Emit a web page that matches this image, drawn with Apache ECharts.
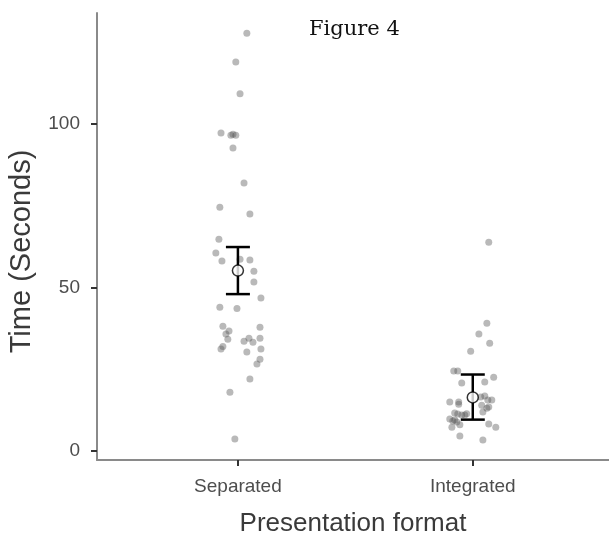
<!DOCTYPE html>
<html>
<head>
<meta charset="utf-8">
<script src="https://cdn.jsdelivr.net/npm/echarts@6/dist/echarts.min.js"></script>
<style>
  html, body { margin: 0; padding: 0; background: #fff; }
  #chart { width: 609px; height: 535px; }
</style>
</head>
<body>
<div id="chart"></div>
<script>
// categories on the x axis
const categories = ['Separated', 'Integrated'];

// time values (seconds), with the horizontal jitter of each dot
const sepTime = [127.8, 119, 109.3, 97.3, 96.6, 96.9, 96.6, 92.7, 82, 74.6, 72.5, 64.8, 60.6, 58.1, 58.7, 58.4,
  55, 51.7, 46.8, 44, 43.6, 38.2, 37.9, 36.7, 35.8, 34.2, 34.5, 33.6, 34.5, 33.3, 32, 31.2, 31.2, 30.3,
  28.1, 26.6, 22, 18, 3.7];
const sepJitter = [0.038, -0.009, 0.009, -0.072, -0.030, -0.021, -0.009, -0.021, 0.026, -0.077, 0.051, -0.081,
  -0.094, -0.068, 0.009, 0.051, 0.068, 0.068, 0.098, -0.077, -0.004, -0.064, 0.094, -0.038, -0.051, -0.043,
  0.047, 0.026, 0.094, 0.064, -0.064, -0.072, 0.098, 0.038, 0.094, 0.081, 0.051, -0.034, -0.013];

const intTime = [63.9, 39.1, 35.8, 33, 30.5, 24.5, 24.5, 20.8, 21.1, 22.6, 15, 15, 16.5, 16.8, 15.6, 15.6,
  14, 13.1, 13.5, 11.9, 11.6, 11.3, 11, 11, 9.8, 9.2, 9.5, 7.3, 8, 8.3, 7.3, 4.6, 3.4, 14.3, 8.9, 11.4];
const intJitter = [0.068, 0.060, 0.026, 0.072, -0.009, -0.081, -0.064, -0.047, 0.051, 0.089, -0.098, -0.060,
  0.034, 0.051, 0.064, 0.081, 0.038, 0.060, 0.068, 0.043, -0.077, -0.064, -0.047, -0.034, -0.098, -0.085,
  -0.077, -0.089, -0.055, 0.068, 0.098, -0.055, 0.043, -0.060, -0.068, -0.026];

// group means and interval ends
const meanTime = [55.2, 16.4];
const ciLow = [48.0, 9.6];
const ciHigh = [62.4, 23.4];

const yTicks = [0, 50, 100];

const myChart = echarts.init(document.getElementById('chart'));

const sepPoints = sepTime.map((v, i) => [1 + sepJitter[i], v]);
const intPoints = intTime.map((v, i) => [2 + intJitter[i], v]);
const meanPoints = meanTime.map((v, i) => [i + 1, v]);
const barData = categories.map((c, i) => [i + 1, ciLow[i], ciHigh[i]]);

const option = {
  animation: false,
  title: {
    text: 'Figure 4',
    left: 304,
    top: 14,
    textStyle: { fontFamily: 'DejaVu Serif', fontWeight: 'normal', fontSize: 21, color: '#111' }
  },
  grid: { left: 97, right: 0, top: 13, bottom: 75, outerBoundsMode: 'none' },
  xAxis: {
    type: 'value',
    min: 0.4,
    max: 2.58,
    splitLine: { show: false },
    axisLine: { show: true, onZero: false, lineStyle: { color: '#8a8a8a', width: 2 } },
    axisTick: { show: true, customValues: [1, 2], length: 6, lineStyle: { color: '#333', width: 2 } },
    axisLabel: {
      customValues: [1, 2],
      formatter: v => categories[Math.round(v) - 1],
      color: '#4d4d4d', fontSize: 19, fontFamily: 'Liberation Sans', margin: 17
    },
    name: 'Presentation format',
    nameLocation: 'middle',
    nameGap: 51,
    nameTextStyle: { fontSize: 26, color: '#3a3a3a', fontFamily: 'Liberation Sans' }
  },
  yAxis: {
    type: 'value',
    min: -2.75,
    max: 134,
    splitLine: { show: false },
    axisLine: { show: true, onZero: false, lineStyle: { color: '#8a8a8a', width: 2 } },
    axisTick: { show: true, customValues: yTicks, length: 6, lineStyle: { color: '#333', width: 2 } },
    axisLabel: {
      customValues: yTicks,
      color: '#4d4d4d', fontSize: 19, fontFamily: 'Liberation Sans', margin: 17
    },
    name: 'Time (Seconds)',
    nameLocation: 'middle',
    nameGap: 61,
    nameTextStyle: { fontSize: 29, color: '#3a3a3a', fontFamily: 'Liberation Sans', padding: [0, 30, 0, 0] }
  },
  series: [
    {
      type: 'scatter',
      data: sepPoints,
      symbolSize: 7,
      itemStyle: { color: 'rgba(80,80,80,0.5)' },
      z: 2
    },
    {
      type: 'scatter',
      data: intPoints,
      symbolSize: 7,
      itemStyle: { color: 'rgba(80,80,80,0.5)' },
      z: 2
    },
    {
      type: 'custom',
      data: barData,
      z: 3,
      renderItem: (params, api) => {
        const x = api.value(0);
        const lo = api.coord([x, api.value(1)]);
        const hi = api.coord([x, api.value(2)]);
        const half = 12;
        const style = { stroke: '#000', lineWidth: 2.5 };
        return {
          type: 'group',
          children: [
            { type: 'line', shape: { x1: lo[0], y1: lo[1], x2: hi[0], y2: hi[1] }, style },
            { type: 'line', shape: { x1: hi[0] - half, y1: hi[1], x2: hi[0] + half, y2: hi[1] }, style },
            { type: 'line', shape: { x1: lo[0] - half, y1: lo[1], x2: lo[0] + half, y2: lo[1] }, style }
          ]
        };
      }
    },
    {
      type: 'scatter',
      data: meanPoints,
      symbolSize: 11,
      itemStyle: { color: '#fff', borderColor: '#000', borderWidth: 1.5 },
      z: 4
    }
  ]
};

option && myChart.setOption(option);
</script>
</body>
</html>
